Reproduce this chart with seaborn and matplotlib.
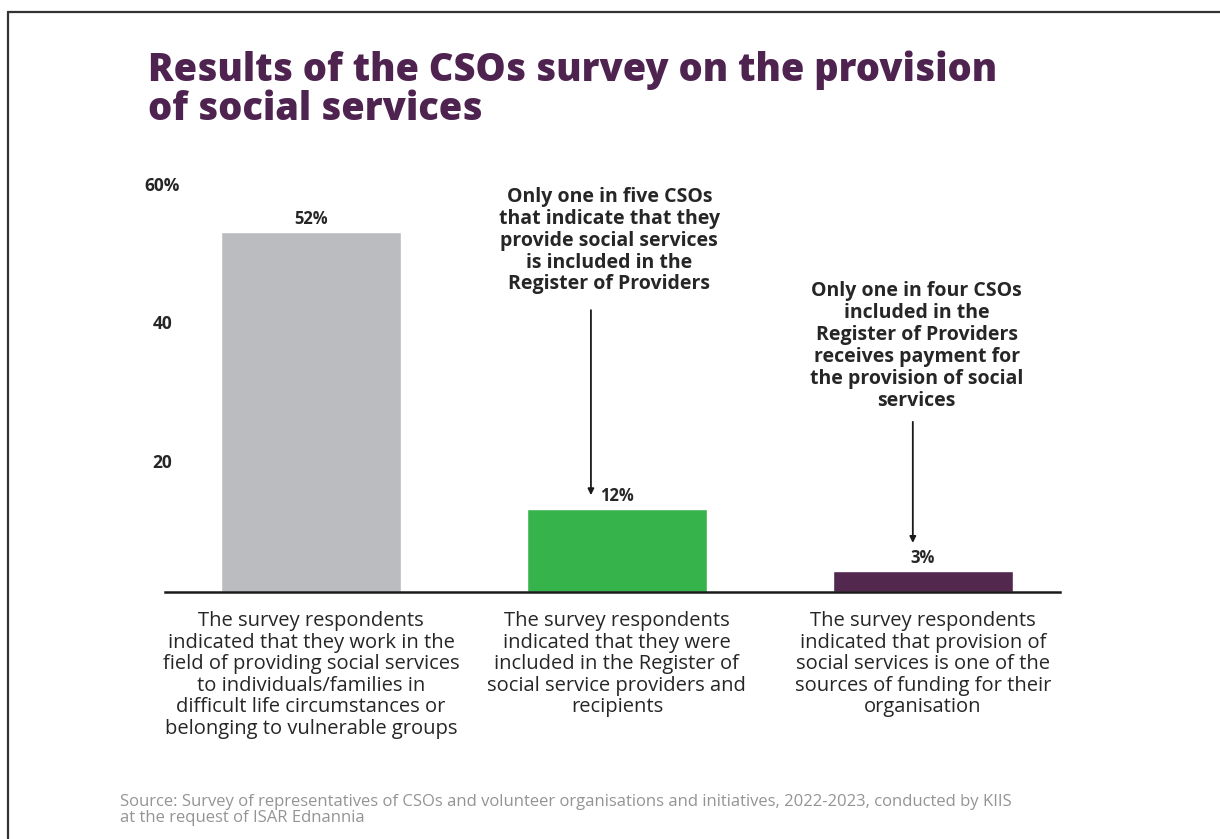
import matplotlib
matplotlib.use("Agg")
import matplotlib.pyplot as plt
import seaborn as sns
from matplotlib.lines import Line2D

# ---- data ----
categories = [
    "The survey respondents\nindicated that they work in the\nfield of providing social services\nto individuals/families in\ndifficult life circumstances or\nbelonging to vulnerable groups",
    "The survey respondents\nindicated that they were\nincluded in the Register of\nsocial service providers and\nrecipients",
    "The survey respondents\nindicated that provision of\nsocial services is one of the\nsources of funding for their\norganisation",
]
values = [52, 12, 3]
value_labels = ["52%", "12%", "3%"]
bar_colors = ["#bbbcc0", "#36b34b", "#52284f"]
ytick_values = [20, 40, 60]
ytick_labels = ["20", "40", "60%"]
title = "Results of the CSOs survey on the provision\nof social services"
note1 = "Only one in five CSOs\nthat indicate that they\nprovide social services\nis included in the\nRegister of Providers"
note2 = "Only one in four CSOs\nincluded in the\nRegister of Providers\nreceives payment for\nthe provision of social\nservices"
source = ("Source: Survey of representatives of CSOs and volunteer organisations and initiatives, 2022-2023, conducted by KIIS\n"
          "at the request of ISAR Ednannia")

sns.set_theme(style="white")
FONT = "Open Sans"
plt.rcParams["font.family"] = [FONT, "DejaVu Sans"]
TXT = "#262626"

fig = plt.figure(figsize=(12.2, 8.39), dpi=100)
ax = fig.add_axes([165 / 1220, 1 - 592 / 839, (1060 - 165) / 1220, (592 - 177) / 839])

sns.barplot(x=categories, y=values, hue=categories, palette=bar_colors,
            legend=False, width=0.59, saturation=1, ax=ax)

ax.set_xlim(-0.477, 2.448)
ax.set_ylim(0, 60)
ax.set_xlabel("")
ax.set_ylabel("")

for s in ["top", "right", "left"]:
    ax.spines[s].set_visible(False)
ax.spines["bottom"].set_color("#1a1a1a")
ax.spines["bottom"].set_linewidth(1.8)

ax.set_yticks(ytick_values)
ax.set_yticklabels(ytick_labels, fontsize=12.5, fontweight="bold", color=TXT)
for lab in ax.get_yticklabels():
    lab.set_horizontalalignment("center")
    lab.set_verticalalignment("top")
ax.tick_params(axis="y", length=0, pad=2)
ax.tick_params(axis="x", length=0, pad=14)
ax.set_xticks(range(len(categories)))
ax.set_xticklabels(categories, fontsize=14.5, color=TXT, linespacing=1.1, va="top")

for i, cont in enumerate(ax.containers):
    ax.bar_label(cont, labels=[value_labels[i]], padding=3, fontsize=12,
                 fontweight="bold", color=TXT)

# annotations
ax.text(0.975, 58.6, note1, ha="center", va="top", fontsize=14, fontweight="bold",
        color=TXT, linespacing=1.13, clip_on=False)
ax.text(1.98, 45.0, note2, ha="center", va="top", fontsize=14, fontweight="bold",
        color=TXT, linespacing=1.13, clip_on=False)
arrow = dict(arrowstyle="-|>", lw=1.3, color="#1a1a1a", mutation_scale=9, shrinkA=0, shrinkB=0)
ax.annotate("", xy=(0.915, 14.0), xytext=(0.915, 40.75), arrowprops=arrow)
ax.annotate("", xy=(1.967, 7.1), xytext=(1.967, 24.6), arrowprops=arrow)

# title and source
fig.text(148 / 1220, 1 - 50 / 839, title, ha="left", va="top", fontsize=27.4,
         fontweight="heavy", color="#4e2350", linespacing=1.03)
fig.text(120 / 1220, 1 - 794 / 839, source, ha="left", va="top", fontsize=12,
         color="#949494", linespacing=0.98)

# frame lines
fig.add_artist(Line2D([8 / 1220, 1], [1 - 12 / 839, 1 - 12 / 839], color="#333333", lw=1.6))
fig.add_artist(Line2D([8 / 1220, 8 / 1220], [0, 1 - 12 / 839], color="#333333", lw=1.6))

fig.savefig("out.png", dpi=100, facecolor="white")
